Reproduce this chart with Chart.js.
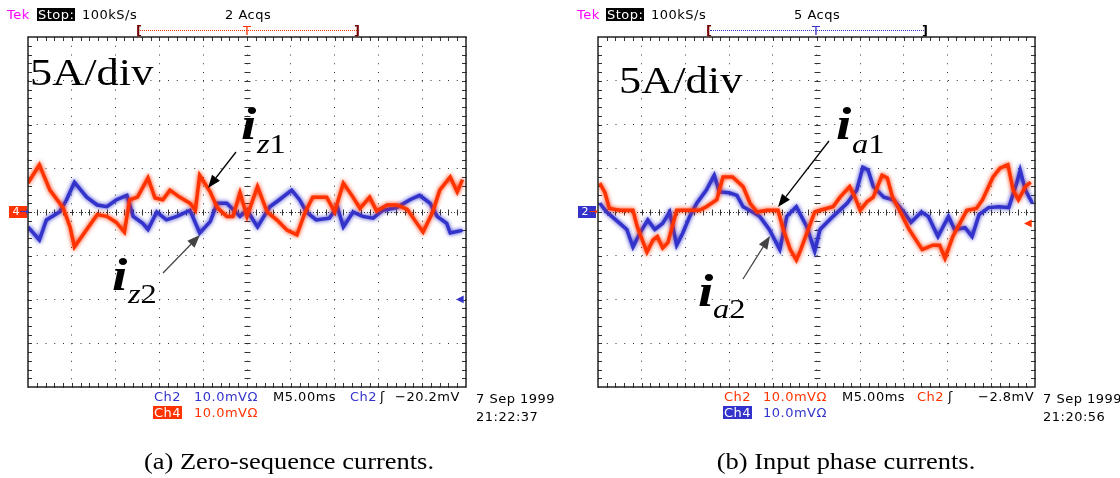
<!DOCTYPE html>
<html><head><meta charset="utf-8">
<script src="https://cdn.jsdelivr.net/npm/chart.js@4.4.1/dist/chart.umd.min.js"></script>
<style>
html,body{margin:0;padding:0;background:#fff;}
body{width:1120px;height:478px;position:relative;overflow:hidden;font-family:"DejaVu Sans",sans-serif;}
canvas{position:absolute;}
.t{position:absolute;white-space:pre;font-size:13px;line-height:13px;letter-spacing:0.5px;color:#000;}
.blue{color:#3333cc;} .red{color:#ff3300;} .mag{color:#ff00ff;}
.ser{position:absolute;white-space:pre;font-family:"Liberation Serif","Times New Roman",serif;color:#000;transform-origin:0 0;}
.cap{position:absolute;white-space:pre;font-family:"Liberation Serif",serif;font-size:23px;line-height:23px;transform:translateX(-50%) scaleX(1.15);}
.dot{position:absolute;height:0;}
svg{position:absolute;left:0;top:0;}
</style></head><body>

<canvas id="scopeA" width="458" height="370" style="left:18px;top:27px"></canvas>
<canvas id="scopeB" width="457" height="370" style="left:588px;top:27px"></canvas>

<!-- header A -->
<div class="t mag" style="left:7px;top:8px">Tek</div>
<div class="t" style="left:37px;top:8px;background:#000;color:#fff;padding:0 1px">Stop:</div>
<div class="t" style="left:82px;top:8px">100kS/s</div>
<div class="t" style="left:225px;top:8px">2 Acqs</div>
<div class="dot" style="left:140px;top:30px;width:217px;border-top:1px dotted #ff3300"></div>
<div class="t" style="left:136px;top:24px;color:#700;font-weight:bold">[</div>
<div class="t" style="left:354px;top:24px;color:#700;font-weight:bold">]</div>
<div class="t red" style="left:243px;top:24px">T</div>

<!-- header B -->
<div class="t mag" style="left:577px;top:8px">Tek</div>
<div class="t" style="left:606px;top:8px;background:#000;color:#fff;padding:0 1px">Stop:</div>
<div class="t" style="left:651px;top:8px">100kS/s</div>
<div class="t" style="left:794px;top:8px">5 Acqs</div>
<div class="dot" style="left:710px;top:30px;width:214px;border-top:1px dotted #3333cc"></div>
<div class="t" style="left:706px;top:24px;color:#700;font-weight:bold">[</div>
<div class="t" style="left:922px;top:24px;color:#000;font-weight:bold">]</div>
<div class="t blue" style="left:812px;top:24px">T</div>

<!-- footer A -->
<div class="t blue" style="left:154px;top:390px">Ch2</div>
<div class="t blue" style="left:194px;top:390px">10.0mVΩ</div>
<div class="t" style="left:273px;top:390px">M5.00ms</div>
<div class="t blue" style="left:350px;top:390px">Ch2</div>
<div class="t" style="left:380px;top:390px">ʃ</div>
<div class="t" style="left:395px;top:390px">−20.2mV</div>
<div class="t" style="left:153px;top:406px;background:#ff3300;color:#fff;padding:0 1px">Ch4</div>
<div class="t red" style="left:194px;top:406px">10.0mVΩ</div>
<div class="t" style="left:476px;top:392px">7 Sep 1999</div>
<div class="t" style="left:476px;top:410px">21:22:37</div>

<!-- footer B -->
<div class="t red" style="left:724px;top:390px">Ch2</div>
<div class="t red" style="left:763px;top:390px">10.0mVΩ</div>
<div class="t" style="left:842px;top:390px">M5.00ms</div>
<div class="t red" style="left:917px;top:390px">Ch2</div>
<div class="t" style="left:948px;top:390px">ʃ</div>
<div class="t" style="left:978px;top:390px">−2.8mV</div>
<div class="t" style="left:723px;top:406px;background:#3333cc;color:#fff;padding:0 1px">Ch4</div>
<div class="t blue" style="left:763px;top:406px">10.0mVΩ</div>
<div class="t" style="left:1043px;top:392px">7 Sep 1999</div>
<div class="t" style="left:1043px;top:410px">21:20:56</div>

<!-- channel markers -->
<div class="t" style="left:9px;top:206px;height:12px;width:18px;background:#ff3300;font-size:11px;line-height:12px;letter-spacing:0"><span style="color:#fff"> 4</span><span style="color:#3333cc">→</span></div>
<div class="t" style="left:578px;top:206px;height:12px;width:18px;background:#3333cc;font-size:11px;line-height:12px;letter-spacing:0"><span style="color:#fff"> 2</span><span style="color:#ff3300">→</span></div>
<div class="t blue" style="left:456px;top:292px;font-size:10px;letter-spacing:0">◀</div>
<div class="t red" style="left:1024px;top:216px;font-size:10px;letter-spacing:0">◀</div>

<!-- in-plot labels -->
<div class="ser" style="left:30px;top:54px;font-size:37px;line-height:37px;transform:scaleX(1.2)">5A/div</div>
<div class="ser" style="left:619px;top:62px;font-size:37px;line-height:37px;transform:scaleX(1.2)">5A/div</div>

<div class="ser" style="left:241px;top:101px;font-size:46px;line-height:46px;font-weight:bold;font-style:italic;transform:scaleX(1.2)">i</div>
<div class="ser" style="left:257px;top:131px;font-size:27px;line-height:27px;transform:scaleX(1.2)"><i>z</i>1</div>
<div class="ser" style="left:112px;top:252px;font-size:46px;line-height:46px;font-weight:bold;font-style:italic;transform:scaleX(1.2)">i</div>
<div class="ser" style="left:128px;top:281px;font-size:27px;line-height:27px;transform:scaleX(1.2)"><i>z</i>2</div>
<div class="ser" style="left:836px;top:101px;font-size:46px;line-height:46px;font-weight:bold;font-style:italic;transform:scaleX(1.2)">i</div>
<div class="ser" style="left:852px;top:131px;font-size:27px;line-height:27px;transform:scaleX(1.2)"><i>a</i>1</div>
<div class="ser" style="left:698px;top:268px;font-size:46px;line-height:46px;font-weight:bold;font-style:italic;transform:scaleX(1.2)">i</div>
<div class="ser" style="left:713px;top:296px;font-size:27px;line-height:27px;transform:scaleX(1.2)"><i>a</i>2</div>

<svg id="arrows" width="1120" height="478"></svg>

<!-- captions -->
<div class="cap" style="left:289px;top:450px">(a) Zero-sequence currents.</div>
<div class="cap" style="left:846px;top:450px">(b) Input phase currents.</div>

<script>
// ---- axis ranges (oscilloscope: 10 div x 5 ms, 8 div x 5 A) ----
const timeRange = [0, 50];      // ms
const timeStep = 5;             // ms/div
const currentRange = [-20, 20]; // A
const currentStep = 5;          // A/div

// ---- (a) zero-sequence currents ----
const tZ1 = [0, 1.3, 2.5, 4.0, 4.8, 5.3, 6.7, 7.9, 9.0, 10.1, 11.0, 11.6, 12.5, 13.7, 14.5, 15.4, 16.2, 17.3, 18.5, 19.1, 19.6, 20.8, 21.6, 22.7, 23.4, 24.2, 25.0, 26.2, 27.3, 28.4, 29.6, 30.7, 31.6, 32.5, 34.1, 35.0, 36.0, 37.1, 37.9, 39.0, 39.8, 41.0, 42.1, 43.3, 44.4, 45.1, 46.2, 47.0, 48.2, 49.0, 49.6];
const iZ1 = [3.3, 5.4, 2.5, 0.5, -1.7, -4.0, -2.0, -0.3, -0.5, -1.2, -2.3, 1.4, 1.7, 3.9, 1.6, 1.4, 2.5, 1.7, 1.0, 0.2, 4.2, 2.3, 0.5, -0.5, -0.5, 2.2, -0.5, 2.9, 0.0, -0.9, -2.1, -2.6, -0.1, 1.7, 1.7, 0.0, 3.3, 1.7, 0.4, 1.7, 0.1, 0.8, 0.8, 0.3, -1.3, -2.3, 0.0, 2.5, 4.0, 2.3, 3.7];
const tZ2 = [0, 1.3, 2.1, 3.6, 4.4, 5.3, 6.7, 7.9, 9.0, 10.1, 11.3, 12.0, 13.1, 13.7, 14.7, 15.8, 17.0, 18.5, 19.6, 20.8, 21.6, 22.7, 24.2, 25.0, 26.2, 27.6, 28.7, 30.1, 31.0, 31.8, 32.9, 34.4, 35.3, 36.0, 37.1, 38.2, 39.4, 40.5, 42.1, 43.6, 44.7, 45.9, 46.7, 47.8, 48.2, 49.6];
const iZ2 = [-1.7, -3.2, -0.9, 0.0, 1.4, 3.4, 1.7, 0.8, 0.6, 1.4, 1.9, -0.5, -1.3, -2.0, 0.0, -0.9, -0.5, 0.2, -2.4, -1.1, 1.0, 1.0, -0.5, 0.2, -1.7, 0.6, 1.4, 2.5, 1.4, 0.0, -0.9, -0.7, 0.6, -1.7, 0.0, -0.5, -0.7, 0.2, 0.5, 1.4, 1.9, 1.0, -0.5, -1.3, -2.4, -2.1];

// ---- (b) input phase currents ----
const tA1 = [0.2, 0.8, 1.3, 2.5, 4.0, 4.5, 5.6, 6.3, 6.8, 7.4, 8.0, 9.0, 10.2, 11.6, 12.4, 13.6, 14.3, 15.4, 16.6, 17.4, 18.2, 19.3, 20.6, 21.2, 22.0, 22.7, 23.2, 23.9, 24.8, 25.4, 26.9, 27.7, 28.8, 29.4, 30.0, 30.8, 31.5, 32.5, 33.1, 33.7, 34.5, 35.6, 37.1, 38.3, 39.1, 39.7, 40.6, 41.4, 42.2, 43.3, 44.0, 45.2, 46.0, 46.9, 47.5, 48.1, 48.9, 49.5];
const iA1 = [3.3, 2.2, 0.4, 0.2, 0.2, -1.7, -4.6, -3.2, -2.8, -4.1, -3.5, 0.2, 0.2, 0.2, 0.6, 1.4, 4.0, 4.0, 2.9, 1.0, 0.0, 0.2, 0.2, -2.0, -4.3, -5.5, -4.3, -2.4, 0.0, 0.2, 0.6, 1.7, 2.9, 1.7, 0.2, 1.2, 1.7, 4.2, 3.9, 1.7, 0.2, -2.0, -4.3, -3.8, -3.8, -5.3, -2.8, -1.3, 0.2, 0.4, 1.4, 4.0, 5.0, 5.4, 2.5, 1.4, 2.9, 3.4];
const tA2 = [0.2, 1.0, 2.5, 3.3, 4.0, 4.8, 5.7, 6.5, 7.4, 8.2, 9.0, 9.7, 10.5, 11.3, 12.4, 13.3, 13.9, 15.0, 15.9, 16.6, 17.7, 18.5, 19.6, 20.8, 21.6, 22.7, 23.9, 24.8, 25.4, 26.9, 28.5, 29.6, 30.3, 30.9, 31.5, 32.7, 33.8, 35.0, 35.8, 37.0, 37.8, 38.9, 40.1, 40.8, 42.0, 42.8, 43.6, 44.7, 45.9, 47.0, 47.9, 48.3, 48.9, 49.7];
const iA2 = [1.0, 0.0, -1.3, -2.0, -4.0, -2.4, -0.9, -2.0, -1.3, 0.0, -3.8, -2.4, -0.5, 1.0, 2.5, 4.2, 2.3, 2.2, 1.9, 0.6, 0.0, -0.5, -2.0, -4.3, -0.5, 0.6, -1.7, -4.5, -2.0, -0.5, 1.0, 2.5, 5.1, 4.8, 2.9, 1.7, 1.4, 0.0, -1.2, 0.0, -0.5, -2.8, -0.5, -2.0, -1.8, -2.8, -0.3, 0.5, 0.6, 0.5, 3.3, 4.8, 2.5, 1.0];

const RED = '#ff3300', BLUE = '#3333cc';

const scopeGrid = {
  id: 'scopeGrid',
  beforeDatasetsDraw(chart) {
    const {ctx, chartArea: a, scales: {x, y}} = chart;
    const xc = Math.round(x.getPixelForValue((timeRange[0] + timeRange[1]) / 2)) + 0.5;
    const y0 = Math.round(y.getPixelForValue(0)) + 0.5;
    const dx = (x.getPixelForValue(timeStep) - x.getPixelForValue(0)) / 5;
    const dy = (y.getPixelForValue(0) - y.getPixelForValue(currentStep)) / 5;
    ctx.save();
    ctx.strokeStyle = '#333'; ctx.lineWidth = 1;
    ctx.setLineDash([1, 2]);
    ctx.beginPath(); ctx.moveTo(a.left, y0); ctx.lineTo(a.right, y0); ctx.stroke();
    ctx.setLineDash([]);
    ctx.beginPath();
    const nx = Math.round((a.right - a.left) / dx), ny = Math.round((a.bottom - a.top) / dy);
    for (let i = 1; i < nx; i++) {
      const px = Math.round(a.left + i * dx) + 0.5;
      ctx.moveTo(px, a.top); ctx.lineTo(px, a.top + 4);
      ctx.moveTo(px, a.bottom); ctx.lineTo(px, a.bottom - 4);
      ctx.moveTo(px, y0 - 3); ctx.lineTo(px, y0 + 3);
    }
    for (let j = 1; j < ny; j++) {
      const py = Math.round(a.top + j * dy) + 0.5;
      ctx.moveTo(a.left, py); ctx.lineTo(a.left + 4, py);
      ctx.moveTo(a.right, py); ctx.lineTo(a.right - 4, py);
      ctx.moveTo(xc - 3, py); ctx.lineTo(xc + 3, py);
    }
    ctx.stroke();
    ctx.restore();
  },
  beforeDatasetDraw(chart, args) {
    const ctx = chart.ctx;
    ctx.save();
    ctx.shadowColor = args.meta.dataset.options.borderColor;
    ctx.shadowBlur = 4;
  },
  afterDatasetDraw(chart) {
    chart.ctx.restore();
  },
  afterDatasetsDraw(chart) {
    const {ctx, chartArea: a} = chart;
    ctx.save();
    ctx.strokeStyle = '#222'; ctx.lineWidth = 1.5;
    ctx.strokeRect(a.left, a.top, a.right - a.left, a.bottom - a.top);
    ctx.restore();
  }
};

function series(t, v, color) {
  return {data: t.map((tt, i) => ({x: tt, y: v[i]})), borderColor: color, borderWidth: 3.5,
          pointRadius: 0, tension: 0, fill: false, borderJoinStyle: 'miter'};
}

function scope(id, datasets) {
  const axis = (min, max, step) => ({
    type: 'linear', min, max,
    ticks: {display: false, stepSize: step},
    grid: {color: '#333', lineWidth: 1, drawTicks: false},
    border: {display: false, dash: [1, 7.75]}
  });
  return new Chart(document.getElementById(id), {
    type: 'line',
    data: {datasets},
    options: {
      responsive: false, animation: false, devicePixelRatio: 1, events: [],
      layout: {padding: 10},
      plugins: {legend: {display: false}, tooltip: {enabled: false}},
      scales: {x: axis(timeRange[0], timeRange[1], timeStep), y: axis(currentRange[0], currentRange[1], currentStep)}
    },
    plugins: [scopeGrid]
  });
}

scope('scopeA', [series(tZ1, iZ1, RED), series(tZ2, iZ2, BLUE)]);
scope('scopeB', [series(tA1, iA1, RED), series(tA2, iA2, BLUE)]);

// annotation arrows
const arrows = [
  {from: [236, 152], to: [208, 188], color: '#000'},
  {from: [163, 273], to: [200, 235], color: '#444'},
  {from: [829, 141], to: [778, 207], color: '#000'},
  {from: [743, 279], to: [770, 236], color: '#444'}
];
const svg = document.getElementById('arrows');
let html = '';
for (const a of arrows) {
  const [x1, y1] = a.from, [x2, y2] = a.to;
  const L = Math.hypot(x2 - x1, y2 - y1), ux = (x2 - x1) / L, uy = (y2 - y1) / L;
  const hl = 13, hw = 5;
  const bx = x2 - ux * hl, by = y2 - uy * hl;
  html += `<line x1="${x1}" y1="${y1}" x2="${bx}" y2="${by}" stroke="${a.color}" stroke-width="1.3"/>`;
  html += `<polygon points="${x2},${y2} ${bx - uy * hw},${by + ux * hw} ${bx + uy * hw},${by - ux * hw}" fill="${a.color}"/>`;
}
svg.innerHTML = html;
</script>
</body></html>
